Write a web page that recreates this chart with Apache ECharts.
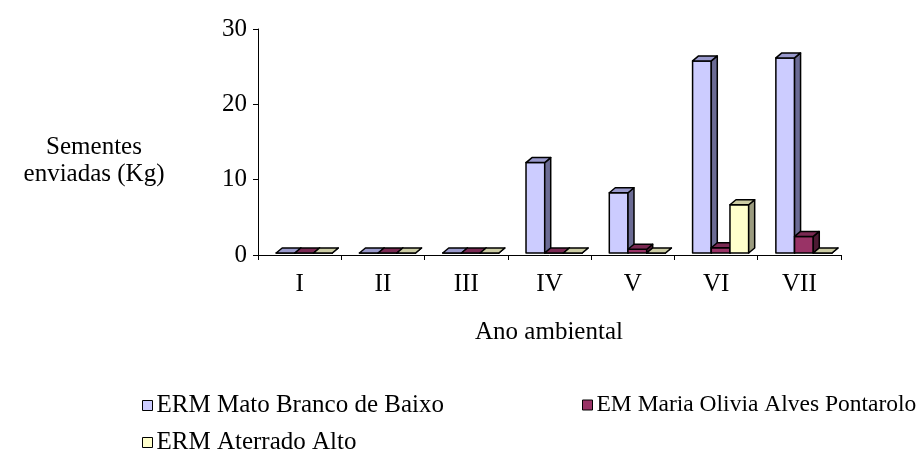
<!DOCTYPE html>
<html>
<head>
<meta charset="utf-8">
<script src="https://cdn.jsdelivr.net/npm/echarts@6/dist/echarts.min.js"></script>
<style>
  html, body { margin: 0; padding: 0; background: #fff; }
  #chart { width: 918px; height: 468px; }
</style>
</head>
<body>
<div id="chart"></div>
<script>
// Ano ambiental categories
const categories = ['I', 'II', 'III', 'IV', 'V', 'VI', 'VII'];
// Sementes enviadas (Kg) per school
const matoBranco = [0, 0, 0, 12, 8, 25.5, 25.9];
const mariaOlivia = [0, 0, 0, 0, 0.5, 0.7, 2.2];
const aterradoAlto = [0, 0, 0, 0, 0, 6.4, 0];

const seriesNames = ['ERM Mato Branco de Baixo', 'EM Maria Olivia Alves Pontarolo', 'ERM Aterrado Alto'];
const yTicks = [0, 10, 20, 30];

const FONT = '"Liberation Serif", "Times New Roman", serif';
const FS = 25;

// face colours: front, top, side
const palettes = [
  ['#CCCCFF', '#9999CC', '#6B6B94'],
  ['#993366', '#7A2952', '#4D1A33'],
  ['#FFFFCC', '#CCCCA3', '#9B9B7F']
];

const DX = 6, DY = -5;

function barRenderer(k) {
  const [front, top, side] = palettes[k];
  return function (params, api) {
    const ci = api.value(0);
    const v = api.value(1);
    const base = api.coord([ci, 0]);
    const head = api.coord([ci, v]);
    const catW = api.size([1, 0])[0];
    const bw = catW * 0.2245;
    const x1 = base[0] - catW * 0.282 + k * bw;
    const x2 = x1 + bw;
    const yb = base[1] - 2;
    const yt = head[1] - 2;
    const stroke = { stroke: '#000', lineWidth: 1.5, lineJoin: 'round' };
    return {
      type: 'group',
      children: [
        { type: 'polygon', shape: { points: [[x1, yb], [x2, yb], [x2, yt], [x1, yt]] },
          style: Object.assign({ fill: front }, stroke) },
        { type: 'polygon', shape: { points: [[x2, yb], [x2 + DX, yb + DY], [x2 + DX, yt + DY], [x2, yt]] },
          style: Object.assign({ fill: side }, stroke) },
        { type: 'polygon', shape: { points: [[x1, yt], [x1 + DX, yt + DY], [x2 + DX, yt + DY], [x2, yt]] },
          style: Object.assign({ fill: top }, stroke) }
      ]
    };
  };
}

const seriesValues = [matoBranco, mariaOlivia, aterradoAlto];

const chart = echarts.init(document.getElementById('chart'), null, { renderer: 'canvas' });

function legendAt(name, left, top, size) {
  return {
    data: [name], left: left, top: top,
    icon: 'rect', itemWidth: 10, itemHeight: 10, itemGap: 0,
    itemStyle: { borderColor: '#000', borderWidth: 1 },
    textStyle: { fontFamily: FONT, fontSize: size, color: '#000', padding: [0, 0, 0, -1] },
    padding: 0
  };
}

chart.setOption({
  animation: false,
  backgroundColor: '#fff',
  textStyle: { fontFamily: FONT },
  grid: { left: 258, right: 77, top: 29, bottom: 213, containLabel: false },
  xAxis: {
    type: 'category',
    data: categories,
    boundaryGap: true,
    axisLine: { lineStyle: { color: '#000', width: 1 } },
    axisTick: { show: true, length: 5, alignWithLabel: false, lineStyle: { color: '#000' } },
    axisLabel: { color: '#000', fontFamily: FONT, fontSize: FS, margin: 17 },
    splitLine: { show: false }
  },
  yAxis: {
    type: 'value',
    min: yTicks[0], max: yTicks[yTicks.length - 1], interval: 10,
    axisLine: { show: true, lineStyle: { color: '#000', width: 1 } },
    axisTick: { show: true, length: 5, lineStyle: { color: '#000' } },
    axisLabel: { color: '#000', fontFamily: FONT, fontSize: FS, margin: 11 },
    splitLine: { show: false }
  },
  legend: [
    legendAt(seriesNames[0], 142, 393, FS),
    legendAt(seriesNames[1], 582, 393, 23.5),
    legendAt(seriesNames[2], 142, 430, FS)
  ],
  graphic: [
    { type: 'text', x: 94, y: 147,
      style: { text: 'Sementes', font: FS + 'px ' + FONT, fill: '#000', align: 'center', verticalAlign: 'middle' } },
    { type: 'text', x: 94, y: 174,
      style: { text: 'enviadas (Kg)', font: FS + 'px ' + FONT, fill: '#000', align: 'center', verticalAlign: 'middle' } },
    { type: 'text', x: 549, y: 332,
      style: { text: 'Ano ambiental', font: FS + 'px ' + FONT, fill: '#000', align: 'center', verticalAlign: 'middle' } }
  ],
  series: seriesValues.map(function (vals, k) {
    return {
      type: 'custom',
      name: seriesNames[k],
      itemStyle: { color: palettes[k][0] },
      renderItem: barRenderer(k),
      encode: { x: 0, y: 1 },
      data: vals.map(function (v, i) { return [i, v]; })
    };
  })
});
</script>
</body>
</html>
